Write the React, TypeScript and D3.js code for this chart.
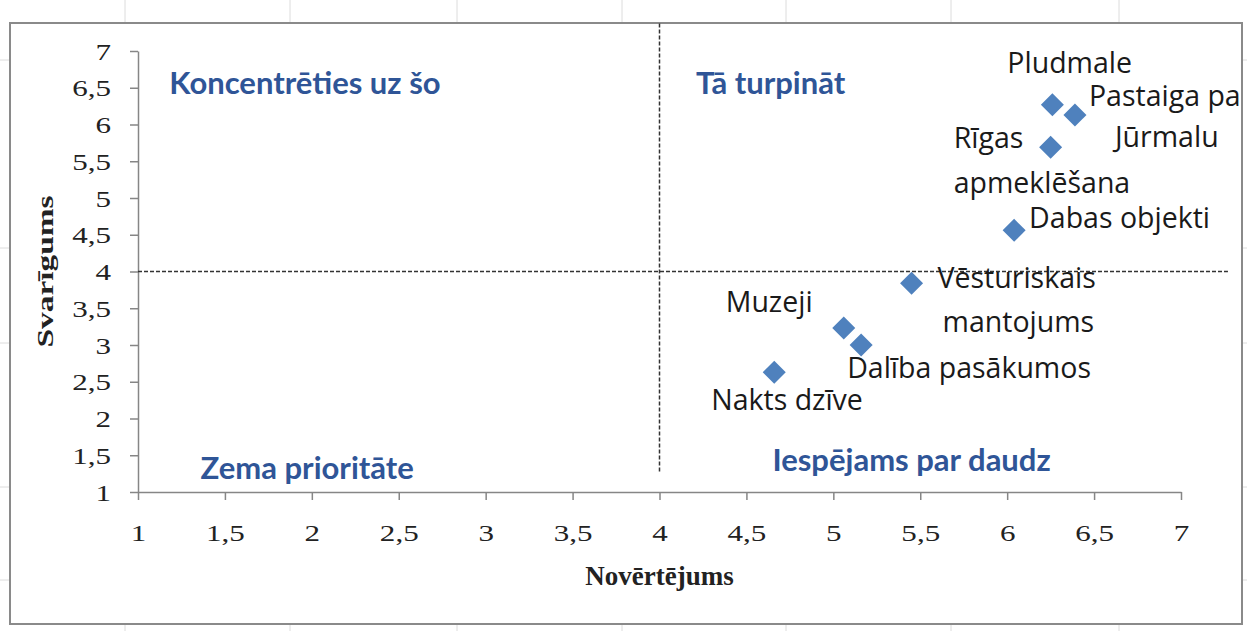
import { useEffect, useRef } from 'react';
import * as d3 from 'd3';

// punkti: nosaukums (rindas), novērtējums (x), svarīgums (y)
const names: string[][] = [
  ['Pludmale'],
  ['Pastaiga pa', 'Jūrmalu'],
  ['Rīgas', 'apmeklēšana'],
  ['Dabas objekti'],
  ['Vēsturiskais', 'mantojums'],
  ['Muzeji'],
  ['Dalība pasākumos'],
  ['Nakts dzīve'],
];
const ratings = [6.26, 6.39, 6.25, 6.04, 5.45, 5.06, 5.16, 4.66];
const importance = [6.27, 6.13, 5.69, 4.56, 3.84, 3.23, 3.0, 2.63];

const quadrantNames = ['Koncentrēties uz šo', 'Tā turpināt', 'Zema prioritāte', 'Iespējams par daudz'];
const quadrantX = [1.18, 4.21, 1.36, 4.65];
const quadrantY = [6.56, 6.56, 1.33, 1.44];

const xTicks = [1, 1.5, 2, 2.5, 3, 3.5, 4, 4.5, 5, 5.5, 6, 6.5, 7];
const yTicks = [1, 1.5, 2, 2.5, 3, 3.5, 4, 4.5, 5, 5.5, 6, 6.5, 7];

// dalījuma līnijas (vid. vērtības)
const splitX = 4;
const splitY = 4;

const W = 1247;
const H = 631;

// uzrakstu nobīdes pret punktu (px), katrai rindai
const labelOffsets: [number, number][][] = [
  [[-45, -42]],
  [[14, -19], [40, 22]],
  [[-97, -9], [-97, 36]],
  [[15, -12]],
  [[26, -5], [31, 39]],
  [[-118, -26]],
  [[-14, 23]],
  [[-63, 28]],
];

const fmt = (d: number) => String(d).replace('.', ',');

const App = () => {
  const svgRef = useRef<SVGSVGElement>(null);

  useEffect(() => {
    if (!svgRef.current) return;
    const svg = d3.select(svgRef.current);
    svg.selectAll('*').remove();

    const x = d3.scaleLinear().domain([1, 7]).range([138, 1181]);
    const y = d3.scaleLinear().domain([1, 7]).range([492, 51]);

    // Excel šūnu režģis ārpusē
    const grid = svg.append('g').attr('stroke', '#dcdcdc').attr('stroke-width', 1);
    [125, 290, 457, 622, 786, 951, 1119].forEach(gx => {
      grid.append('line').attr('x1', gx).attr('x2', gx).attr('y1', 0).attr('y2', H);
    });
    [60, 248, 343, 487, 580].forEach(gy => {
      grid.append('line').attr('x1', 0).attr('x2', W).attr('y1', gy).attr('y2', gy);
    });

    svg.append('rect')
      .attr('x', 10).attr('y', 23)
      .attr('width', 1232).attr('height', 601)
      .attr('fill', 'white')
      .attr('stroke', '#8a8a8a')
      .attr('stroke-width', 2);

    // asis
    const xAxis = svg.append('g')
      .attr('transform', `translate(0,${y(1)})`)
      .call(d3.axisBottom(x).tickValues(xTicks).tickFormat(fmt).tickSize(8).tickSizeOuter(0));
    const yAxis = svg.append('g')
      .attr('transform', `translate(${x(1)},0)`)
      .call(d3.axisLeft(y).tickValues(yTicks).tickFormat(fmt).tickSize(8).tickSizeOuter(0));

    [xAxis, yAxis].forEach(a => {
      a.select('.domain').attr('stroke', '#868686').attr('stroke-width', 1.5);
      a.selectAll('.tick line').attr('stroke', '#868686').attr('stroke-width', 1.5);
      a.selectAll('.tick text')
        .attr('fill', '#222')
        .attr('x', 0)
        .attr('y', 0)
        .attr('dy', '0.35em')
        .style('font-family', '"Liberation Serif", serif')
        .style('font-size', '23px');
    });
    xAxis.selectAll('.tick text').attr('transform', 'translate(0,41) scale(1.35,1)');
    yAxis.selectAll('.tick text').attr('transform', 'translate(-27,0) scale(1.35,1)');

    // dalījuma līnijas
    svg.append('line')
      .attr('x1', x(splitX)).attr('x2', x(splitX))
      .attr('y1', y(1.28)).attr('y2', y(7.39))
      .attr('stroke', '#333').attr('stroke-width', 1.5)
      .attr('stroke-dasharray', '4,2');
    svg.append('line')
      .attr('x1', x(1)).attr('x2', x(7.27))
      .attr('y1', y(splitY)).attr('y2', y(splitY))
      .attr('stroke', '#333').attr('stroke-width', 1.5)
      .attr('stroke-dasharray', '4,2');

    // kvadrantu nosaukumi
    svg.append('g').selectAll('text')
      .data(quadrantNames)
      .enter()
      .append('text')
      .attr('x', (_d, i) => x(quadrantX[i]))
      .attr('y', (_d, i) => y(quadrantY[i]))
      .attr('dy', '0.35em')
      .attr('fill', '#2f5597')
      .style('font-family', 'Lato, sans-serif')
      .style('font-weight', 'bold')
      .style('font-size', '31px')
      .text(d => d);

    // punkti
    const diamond = d3.symbol().type(d3.symbolSquare).size(265);
    svg.append('g').selectAll('path')
      .data(ratings)
      .enter()
      .append('path')
      .attr('d', diamond)
      .attr('transform', (d, i) => `translate(${x(d)},${y(importance[i])}) rotate(45)`)
      .attr('fill', '#4f81bd');

    // punktu uzraksti
    const labels = svg.append('g')
      .style('font-family', '"Open Sans", sans-serif')
      .style('font-size', '28.5px')
      .attr('fill', '#1a1a1a');
    names.forEach((lines, i) => {
      lines.forEach((line, j) => {
        const [dx, dy] = labelOffsets[i][j];
        labels.append('text')
          .attr('x', x(ratings[i]) + dx)
          .attr('y', y(importance[i]) + dy)
          .attr('dy', '0.35em')
          .text(line);
      });
    });

    // asu nosaukumi
    svg.append('text')
      .attr('x', (x(1) + x(7)) / 2)
      .attr('y', 576)
      .attr('dy', '0.35em')
      .attr('text-anchor', 'middle')
      .attr('fill', '#222')
      .style('font-family', '"Liberation Serif", serif')
      .style('font-weight', 'bold')
      .style('font-size', '27px')
      .text('Novērtējums');

    svg.append('text')
      .attr('transform', `translate(45,${(y(1) + y(7)) / 2}) rotate(-90) scale(1.45,1)`)
      .attr('dy', '0.35em')
      .attr('text-anchor', 'middle')
      .attr('fill', '#222')
      .style('font-family', '"Liberation Serif", serif')
      .style('font-weight', 'bold')
      .style('font-size', '23px')
      .text('Svarīgums');
  }, []);

  return (
    <svg
      ref={svgRef}
      width={W}
      height={H}
      style={{ position: 'fixed', left: 0, top: 0, background: 'white' }}
    />
  );
};

export default App;
